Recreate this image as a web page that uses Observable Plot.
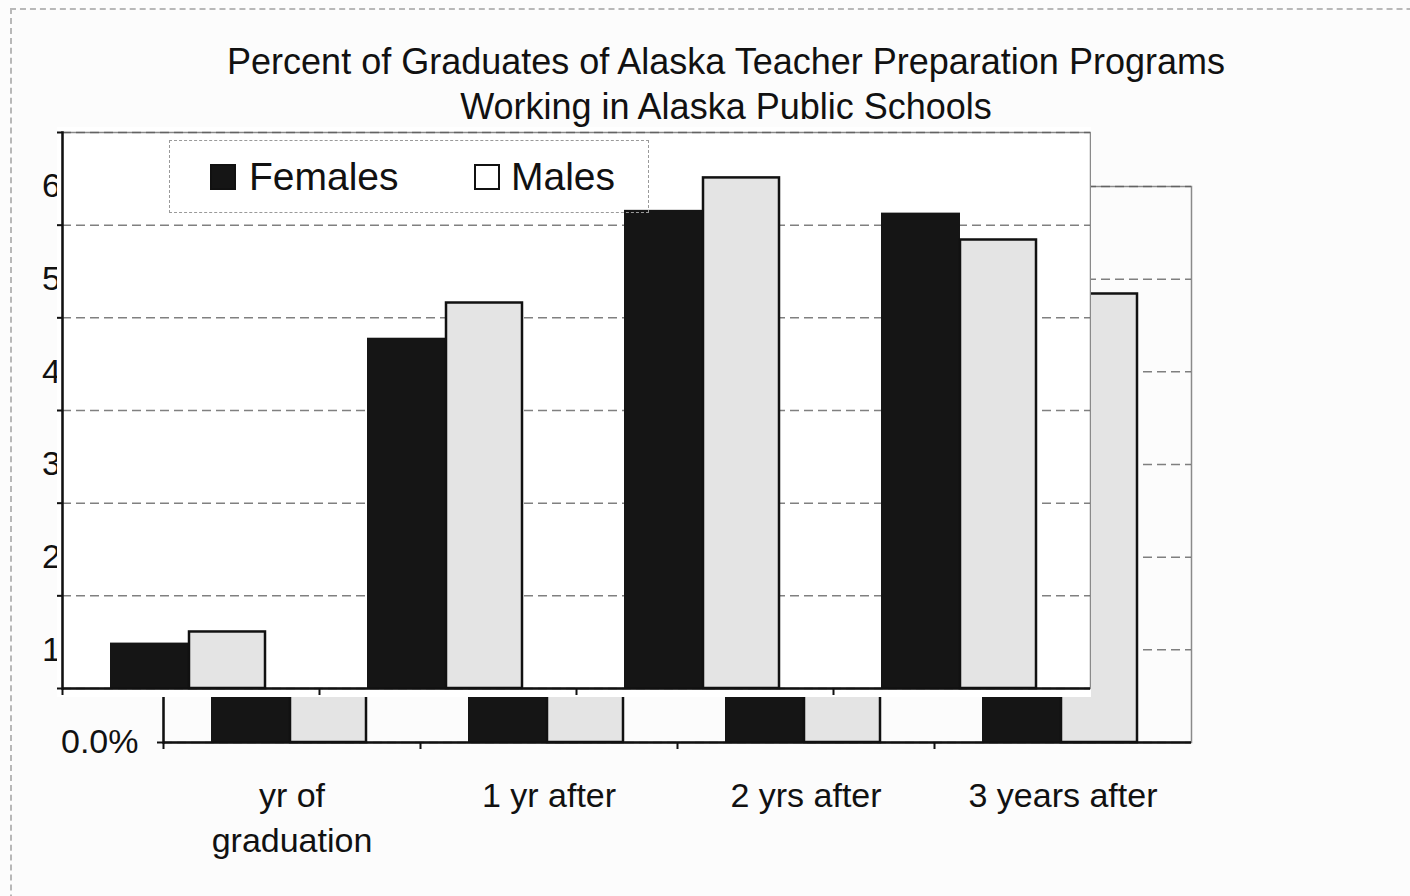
<!DOCTYPE html>
<html>
<head>
<meta charset="utf-8">
<script src="https://cdn.jsdelivr.net/npm/d3@7"></script>
<script src="https://cdn.jsdelivr.net/npm/@observablehq/plot@0.6"></script>
<style>
  html, body { margin: 0; padding: 0; background: #fcfcfc; }
  #root { position: relative; width: 1410px; height: 896px; overflow: hidden;
          font-family: "Liberation Sans", Arial, sans-serif; color: #111; }
  .chart { position: absolute; left: 0; top: 0; width: 1410px; height: 896px; }
  .chart svg { position: absolute; left: 0; top: 0; }
  .outer { position: absolute; left: 10px; top: 8px; width: 1600px; height: 1000px;
           border-top: 2px dashed #b8b8b8; border-left: 2px dashed #b8b8b8; }
  .title { position: absolute; left: 0; top: 39px; width: 1452px; text-align: center;
           font-size: 36px; line-height: 45px; }
  .legend { position: absolute; left: 270px; top: 194px; width: 480px; height: 73px;
            box-sizing: border-box; border: 1.5px dashed #9a9a9a; }
  .legend .sw { position: absolute; top: 23px; width: 26px; height: 26px; box-sizing: border-box;
                border: 2px solid #111; }
  .legend .lt { position: absolute; top: 14px; font-size: 39px; line-height: 44px; }
  .patch { position: absolute; left: 57px; top: 127px; width: 1034px; height: 570px;
           overflow: hidden; background: #fff; }
</style>
</head>
<body>
<div id="root"></div>
<script>
// ---- data ----
const categories = ["yr of graduation", "1 yr after", "2 yrs after", "3 years after"];
const categoryLabels = ["yr of\ngraduation", "1 yr after", "2 yrs after", "3 years after"];
const series = ["Females", "Males"];
const femalesPct = [0.049, 0.378, 0.516, 0.513];
const malesPct = [0.061, 0.416, 0.551, 0.484];
const yTicks = [0, 0.1, 0.2, 0.3, 0.4, 0.5, 0.6];
const titleLines = ["Percent of Graduates of Alaska Teacher Preparation Programs",
                    "Working in Alaska Public Schools"];

// ---- styles ----
const seriesFill = ["#151515", "#e4e4e4"];
const font = "'Liberation Sans', Arial, sans-serif";

const femaleRows = categories.map((c, i) => ({category: c, value: femalesPct[i]}));
const maleRows = categories.map((c, i) => ({category: c, value: malesPct[i]}));

function buildPlot(withText) {
  const W = 1410, H = 896, mL = 163, mR = 219;
  const band = (W - mL - mR) / categories.length;
  const marks = [
    Plot.frame({stroke: "#8a8a8a", strokeWidth: 1.5}),
    Plot.gridY(yTicks, {stroke: "#555", strokeOpacity: 0.75, strokeDasharray: "9,5", strokeWidth: 1.5}),
    Plot.barY(femaleRows, {x: "category", y: "value", fill: seriesFill[0], insetLeft: 48, insetRight: 130}),
    Plot.barY(maleRows, {x: "category", y: "value", fill: seriesFill[1], stroke: "#111", strokeWidth: 2.5,
                         insetLeft: 127, insetRight: 54}),
    Plot.axisX({tickSize: 7, dx: -band / 2, tickFormat: () => "", strokeWidth: 2, label: null}),
    Plot.ruleY([0], {stroke: "#111", strokeWidth: 2.5}),
    Plot.frame({anchor: "left", stroke: "#111", strokeWidth: 2.5})
  ];
  if (withText) {
    marks.push(
      Plot.axisY(yTicks, {tickFormat: d3.format(".1%"), tickSize: 6, tickPadding: 19, fontSize: 34,
                          strokeWidth: 2, label: null}),
      Plot.axisX({tickSize: 0, tickPadding: 33, fontSize: 34, lineHeight: 1.32, label: null,
                  tickFormat: c => categoryLabels[categories.indexOf(c)]})
    );
  } else {
    marks.push(Plot.axisY(yTicks, {tickFormat: () => "", tickSize: 6, strokeWidth: 2, label: null}));
  }
  return Plot.plot({
    width: W, height: H,
    marginLeft: mL, marginRight: mR, marginTop: 186, marginBottom: 154,
    style: {fontFamily: font, fontSize: "34px", color: "#111", background: "transparent", overflow: "visible"},
    x: {domain: categories, padding: 0, label: null, axis: null},
    y: {domain: [0, 0.6], label: null, axis: null},
    marks
  });
}

function makeChart(isBase) {
  const c = document.createElement("div");
  c.className = "chart";
  if (isBase) {
    const outer = document.createElement("div");
    outer.className = "outer";
    c.append(outer);
    const t = document.createElement("div");
    t.className = "title";
    t.innerHTML = titleLines.join("<br>");
    c.append(t);
  }
  c.append(buildPlot(isBase));
  if (!isBase) {
    const lg = document.createElement("div");
    lg.className = "legend";
    const swLeft = [40, 304], txtLeft = [79, 341];
    series.forEach((s, i) => {
      const sw = document.createElement("span");
      sw.className = "sw";
      sw.style.left = swLeft[i] + "px";
      sw.style.background = i === 0 ? seriesFill[0] : "#fff";
      lg.append(sw);
      const lt = document.createElement("span");
      lt.className = "lt";
      lt.style.left = txtLeft[i] + "px";
      lt.textContent = s;
      lg.append(lt);
    });
    c.append(lg);
  }
  return c;
}

const root = document.getElementById("root");
root.append(makeChart(true));
// misaligned pasted copy of the plot area (as in the scanned original)
const patch = document.createElement("div");
patch.className = "patch";
const copy = makeChart(false);
copy.style.left = (-101 - 57) + "px";
copy.style.top = (-54 - 127) + "px";
patch.append(copy);
root.append(patch);
</script>
</body>
</html>
